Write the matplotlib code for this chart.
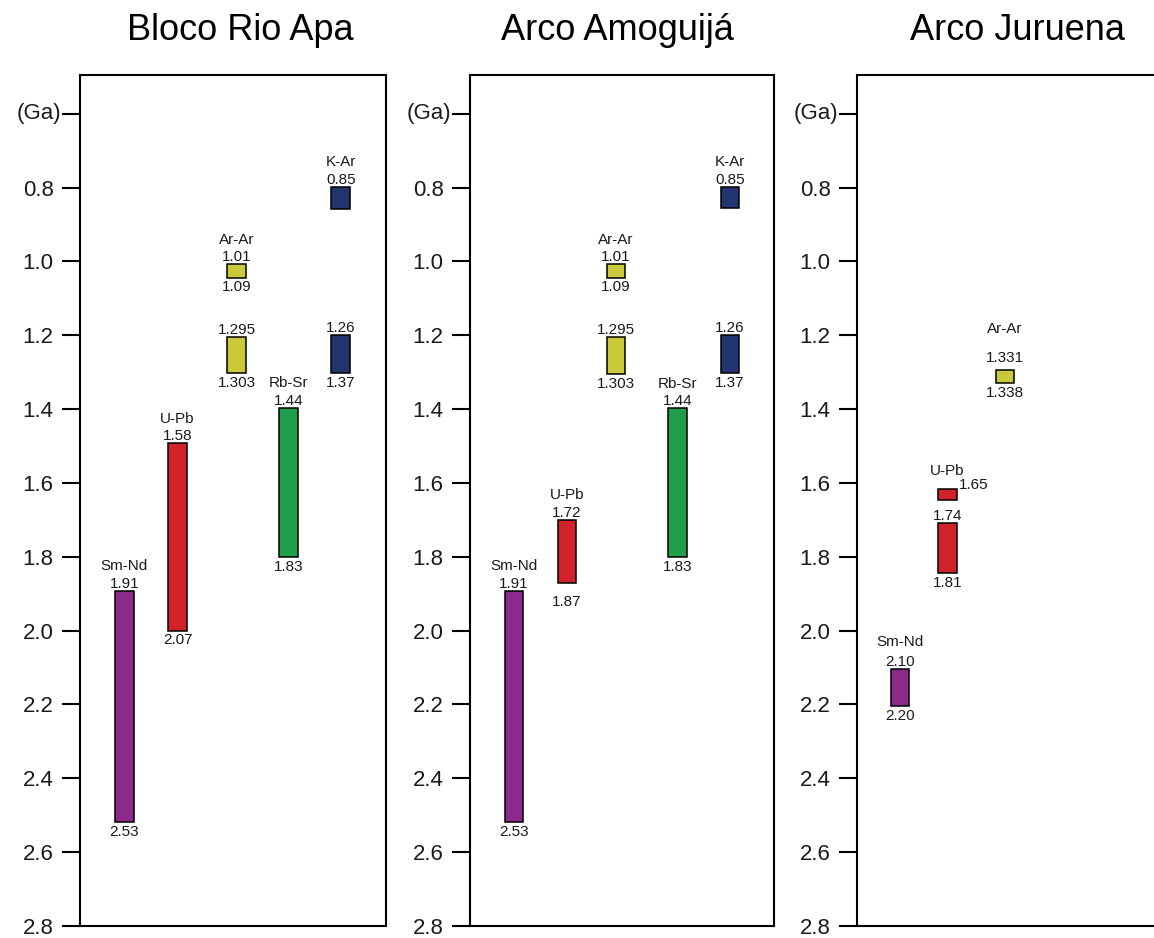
import numpy as np
import matplotlib
matplotlib.use('Agg')
import matplotlib.pyplot as plt

plt.rcParams['font.family'] = ['Liberation Sans', 'DejaVu Sans']

# --- data: age intervals (Ga) as drawn on the axis, plus the printed age labels ---
titles = ['Bloco Rio Apa', 'Arco Amoguijá', 'Arco Juruena']

rio_apa_method = ['Sm-Nd', 'U-Pb', 'Ar-Ar', 'Ar-Ar', 'Rb-Sr', 'K-Ar', 'K-Ar']
rio_apa_start = [1.893, 1.493, 1.008, 1.205, 1.397, 0.798, 1.200]
rio_apa_end = [2.519, 2.000, 1.044, 1.303, 1.801, 0.857, 1.303]
rio_apa_top_lbl = ['1.91', '1.58', '1.01', '1.295', '1.44', '0.85', '1.26']
rio_apa_bot_lbl = ['2.53', '2.07', '1.09', '1.303', '1.83', '', '1.37']

amoguija_method = ['Sm-Nd', 'U-Pb', 'Ar-Ar', 'Ar-Ar', 'Rb-Sr', 'K-Ar', 'K-Ar']
amoguija_start = [1.893, 1.701, 1.008, 1.205, 1.398, 0.798, 1.200]
amoguija_end = [2.518, 1.872, 1.044, 1.306, 1.800, 0.856, 1.303]
amoguija_top_lbl = ['1.91', '1.72', '1.01', '1.295', '1.44', '0.85', '1.26']
amoguija_bot_lbl = ['2.53', '1.87', '1.09', '1.303', '1.83', '', '1.37']

juruena_method = ['Sm-Nd', 'U-Pb', 'U-Pb', 'Ar-Ar']
juruena_start = [2.103, 1.615, 1.709, 1.293]
juruena_end = [2.204, 1.647, 1.845, 1.329]
juruena_top_lbl = ['2.10', '1.65', '1.74', '1.331']
juruena_bot_lbl = ['2.20', '', '1.81', '1.338']

y_ticks = [0.6, 0.8, 1.0, 1.2, 1.4, 1.6, 1.8, 2.0, 2.2, 2.4, 2.6, 2.8]

# --- styles / layout ---
method_color = {'Sm-Nd': '#8c2a8c', 'U-Pb': '#d2232a', 'Ar-Ar': '#c9c93a',
                'Rb-Sr': '#1f9e4b', 'K-Ar': '#233570'}
column_x = [
    {'Sm-Nd': 0.145, 'U-Pb': 0.319, 'Ar-Ar': 0.512, 'Rb-Sr': 0.681, 'K-Ar': 0.852},
    {'Sm-Nd': 0.144, 'U-Pb': 0.319, 'Ar-Ar': 0.480, 'Rb-Sr': 0.682, 'K-Ar': 0.855},
    {'Sm-Nd': 0.141, 'U-Pb': 0.296, 'Ar-Ar': 0.485},
]
axes_left = [80, 470, 857]
axes_width = [306, 304, 305]
title_x = [0.523, 0.484, 0.525]
bar_w = 0.061
txt_col = '#1a1a1a'

panels = [
    (rio_apa_method, rio_apa_start, rio_apa_end, rio_apa_top_lbl, rio_apa_bot_lbl),
    (amoguija_method, amoguija_start, amoguija_end, amoguija_top_lbl, amoguija_bot_lbl),
    (juruena_method, juruena_start, juruena_end, juruena_top_lbl, juruena_bot_lbl),
]

W, H = 1154, 938
ax_bottom, ax_height = 12, 851
fig = plt.figure(figsize=(W / 100, H / 100), dpi=100)

for p, (meth, start, end, top_lbl, bot_lbl) in enumerate(panels):
    ax = fig.add_axes([axes_left[p] / W, ax_bottom / H, axes_width[p] / W, ax_height / H])
    ax.set_xlim(0, 1)
    ax.set_ylim(2.8, 0.495)
    for s in ax.spines.values():
        s.set_linewidth(1.5)
    ax.set_xticks([])
    ax.set_yticks(y_ticks)
    ax.set_yticklabels([''] + ['%.1f' % v for v in y_ticks[1:]])
    ax.tick_params(axis='y', length=13, width=1.5, pad=6, labelsize=16, labelcolor=txt_col)
    ax.annotate('(Ga)', xy=(0, 0.6), xycoords=ax.get_yaxis_transform(),
                xytext=(-13.5, 0), textcoords='offset points',
                ha='right', va='center', fontsize=16, color=txt_col)
    ax.text(title_x[p], 1 + 35 / ax_height, titles[p], transform=ax.transAxes,
            ha='center', va='baseline', fontsize=26)

    xs = [column_x[p][m] for m in meth]
    heights = np.array(end) - np.array(start)
    ax.bar(xs, heights, bottom=start, width=bar_w,
           color=[method_color[m] for m in meth], edgecolor='black', linewidth=1.1)

    seen = set()
    for i, m in enumerate(meth):
        x = xs[i]
        top_off = 2.2
        meth_off = 15
        bot_off = -2
        ha_top = 'center'
        dx_top = 0
        if p == 2 and m == 'Ar-Ar':
            top_off, meth_off = 5.8, 26.5
        if p == 1 and m == 'U-Pb':
            bot_off = -8.5
        if p == 2 and m == 'Sm-Nd':
            meth_off = 16
        if p == 2 and top_lbl[i] == '1.65':
            # small U-Pb bar in Juruena: age printed to the right of the bar
            ha_top, dx_top, top_off, meth_off = 'left', 8.5, -0.5, 10
        if top_lbl[i]:
            ax.annotate(top_lbl[i], xy=(x, start[i]), xytext=(dx_top, top_off),
                        textcoords='offset points', ha=ha_top, va='baseline',
                        fontsize=11, color=txt_col)
        if bot_lbl[i]:
            ax.annotate(bot_lbl[i], xy=(x, end[i]), xytext=(0, bot_off),
                        textcoords='offset points', ha='center', va='top',
                        fontsize=11, color=txt_col)
        if m not in seen:
            seen.add(m)
            ax.annotate(m, xy=(x, start[i]), xytext=(0, meth_off),
                        textcoords='offset points', ha='center', va='baseline',
                        fontsize=11, color=txt_col)

fig.savefig('out.png', dpi=100)
